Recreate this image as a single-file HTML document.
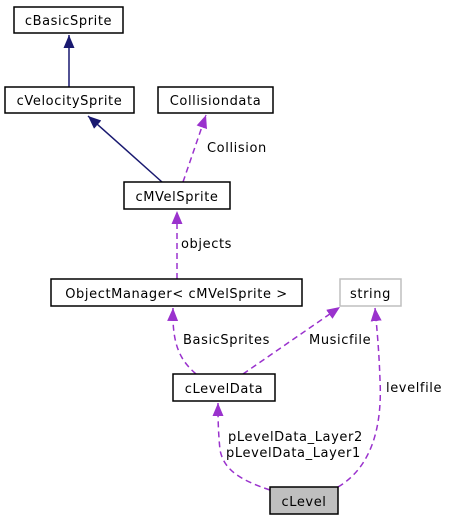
<!DOCTYPE html>
<html><head><style>body{margin:0;background:#fff}svg{display:block}</style></head><body>
<svg width="449" height="520" viewBox="0 0 449 520" xmlns="http://www.w3.org/2000/svg" font-family="DejaVu Sans, Liberation Sans, sans-serif" font-size="13" letter-spacing="0.6">
<defs>
<marker id="nb" markerWidth="14" markerHeight="12" refX="13" refY="5.5" orient="auto" markerUnits="userSpaceOnUse"><path d="M0,0 L13,5.5 L0,11 z" fill="#191970"/></marker>
<marker id="pu" markerWidth="14" markerHeight="12" refX="13" refY="5.5" orient="auto" markerUnits="userSpaceOnUse"><path d="M0,0 L13,5.5 L0,11 z" fill="#9a32cd"/></marker>
</defs>
<g fill="none" stroke-width="1.5">
<path d="M69,87 L69,35" stroke="#191970" marker-end="url(#nb)"/>
<path d="M162,182 L88,116" stroke="#191970" marker-end="url(#nb)"/>
<g stroke="#9a32cd" stroke-dasharray="6,4">
<path d="M183,182 L206,115" marker-end="url(#pu)"/>
<path d="M177,279 L177,211" marker-end="url(#pu)"/>
<path d="M196,374 C180,360 172,345 173,308" marker-end="url(#pu)"/>
<path d="M243,374 L340,307" marker-end="url(#pu)"/>
<path d="M338,487 C375,465 382,420 380,380 C379,350 377,330 375,308" marker-end="url(#pu)"/>
<path d="M270,490 C240,480 224,470 220,450 C218,430 218,415 218,403" marker-end="url(#pu)"/>
</g>
</g>
<g stroke-width="1.5">
<rect x="14" y="7" width="109" height="26" fill="#fff" stroke="#000"/>
<rect x="5" y="87" width="129" height="26" fill="#fff" stroke="#000"/>
<rect x="158" y="87" width="115" height="26" fill="#fff" stroke="#000"/>
<rect x="124" y="182" width="106" height="27" fill="#fff" stroke="#000"/>
<rect x="51" y="279" width="251" height="27" fill="#fff" stroke="#000"/>
<rect x="340" y="279" width="61" height="27" fill="#fff" stroke="#bfbfbf"/>
<rect x="173" y="374" width="102" height="27" fill="#fff" stroke="#000"/>
<rect x="270" y="487" width="68" height="27" fill="#bfbfbf" stroke="#000"/>
</g>
<g text-anchor="middle" fill="#000">
<text x="68.5" y="25">cBasicSprite</text>
<text x="69.5" y="105">cVelocitySprite</text>
<text x="215.5" y="105">Collisiondata</text>
<text x="177" y="201">cMVelSprite</text>
<text x="176.5" y="298">ObjectManager&lt; cMVelSprite &gt;</text>
<text x="370.5" y="298">string</text>
<text x="224" y="393">cLevelData</text>
<text x="304" y="506">cLevel</text>
</g>
<g fill="#000">
<text x="207" y="152">Collision</text>
<text x="181" y="248">objects</text>
<text x="183" y="344">BasicSprites</text>
<text x="309" y="344">Musicfile</text>
<text x="386" y="392">levelfile</text>
<text x="228" y="441">pLevelData_Layer2</text>
<text x="226" y="457">pLevelData_Layer1</text>
</g>
</svg>
</body></html>
